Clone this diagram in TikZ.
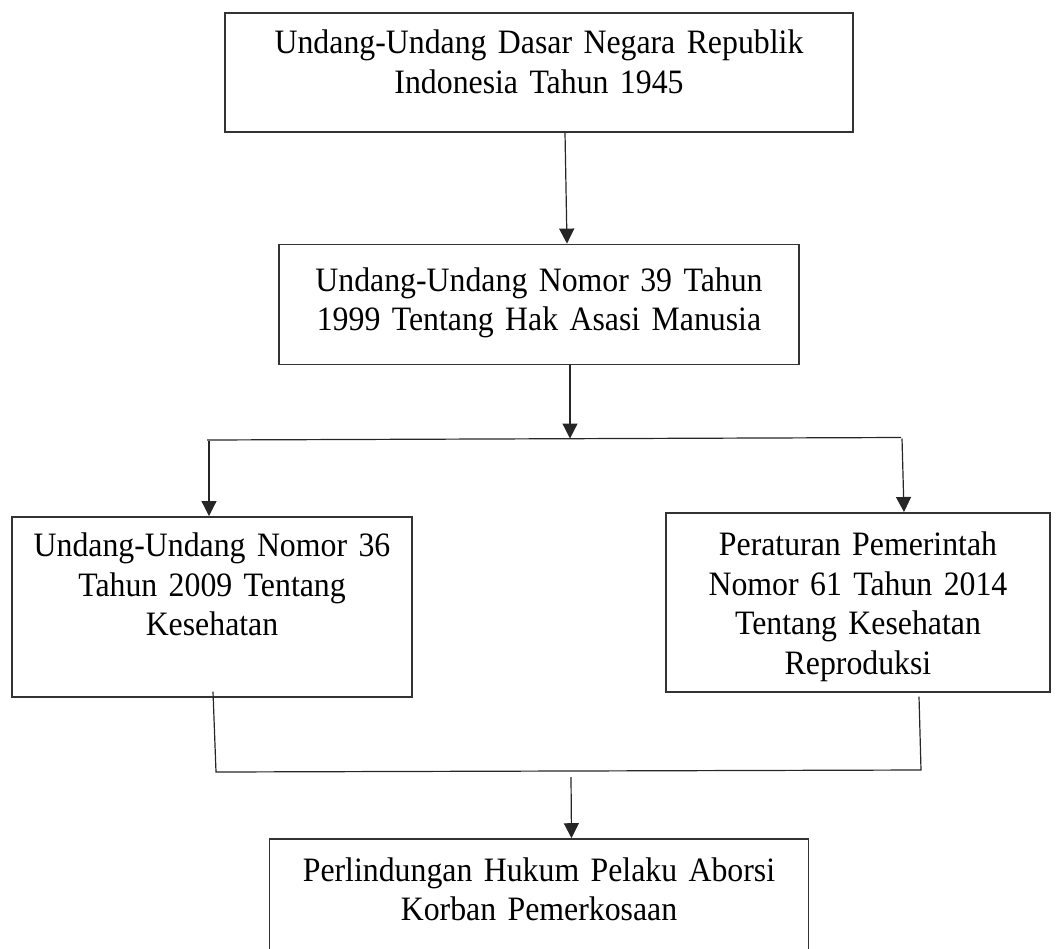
\documentclass[tikz,border=0pt]{standalone}
\usepackage{fontspec}
\setmainfont{Liberation Serif}[FakeStretch=0.93]
\usetikzlibrary{arrows.meta, positioning}

\begin{document}
\begin{tikzpicture}[
        x=1pt, y=-1pt,
        node distance=111pt,
        box/.style={rectangle, draw=black!80, line width=1.6pt, inner sep=0pt, align=center, anchor=north, font=\fontsize{34.2}{39.5}\selectfont},
        line/.style={draw=black!85, line width=1.2pt},
        arrow/.style={line, -{Triangle[width=15pt,length=15pt]}}
    ]
    \useasboundingbox (0,0) rectangle (1059,948);

    \node [box, text width=628pt, text height=41pt, text depth=78pt] (uud) at (539,12) {Undang-Undang Dasar Negara Republik\\Indonesia Tahun 1945};
    \node [box, text width=520pt, text height=47pt, text depth=73pt, below=111pt of uud] (uuham) {Undang-Undang Nomor 39 Tahun\\1999 Tentang Hak Asasi Manusia};

    \node [box, text width=400pt, text height=40pt, text depth=140pt] (uukes) at (212,516) {Undang-Undang Nomor 36\\Tahun 2009 Tentang\\Kesehatan};
    \node [box, text width=384pt, text height=43pt, text depth=136pt] (ppkr) at (858,512) {Peraturan Pemerintah\\Nomor 61 Tahun 2014\\Tentang Kesehatan\\Reproduksi};

    \node [box, text width=539pt, text height=42pt, text depth=125pt, below=473pt of uuham] (hukum) {Perlindungan Hukum Pelaku Aborsi\\Korban Pemerkosaan};

    % cabang atas dan bawah
    \coordinate (sL) at (207,440);
    \coordinate (sM) at (570,438.5);
    \coordinate (sR) at (901,437.5);
    \coordinate (jL) at (216,772);
    \coordinate (jR) at (921,770);
    \coordinate (jM) at (571,777);

    \path [arrow] ([xshift=26pt]uud.south) -- ([xshift=28pt]uuham.north);
    \path [arrow] ([xshift=31pt]uuham.south) -- (sM);
    \path [line] (sL) -- (sR);
    \path [arrow] ([xshift=2pt,yshift=-1pt]sL) -- ([xshift=-3pt]uukes.north);
    \path [arrow] ([xshift=1pt,yshift=-1pt]sR) -- ([xshift=46pt]ppkr.north);
    \path [line] ([xshift=1pt,yshift=6pt]uukes.south) -- (jL) -- (jR) -- ([xshift=61pt,yshift=-4pt]ppkr.south);
    \path [arrow] (jM) -- ([xshift=32.5pt]hukum.north);

\end{tikzpicture}
\end{document}
